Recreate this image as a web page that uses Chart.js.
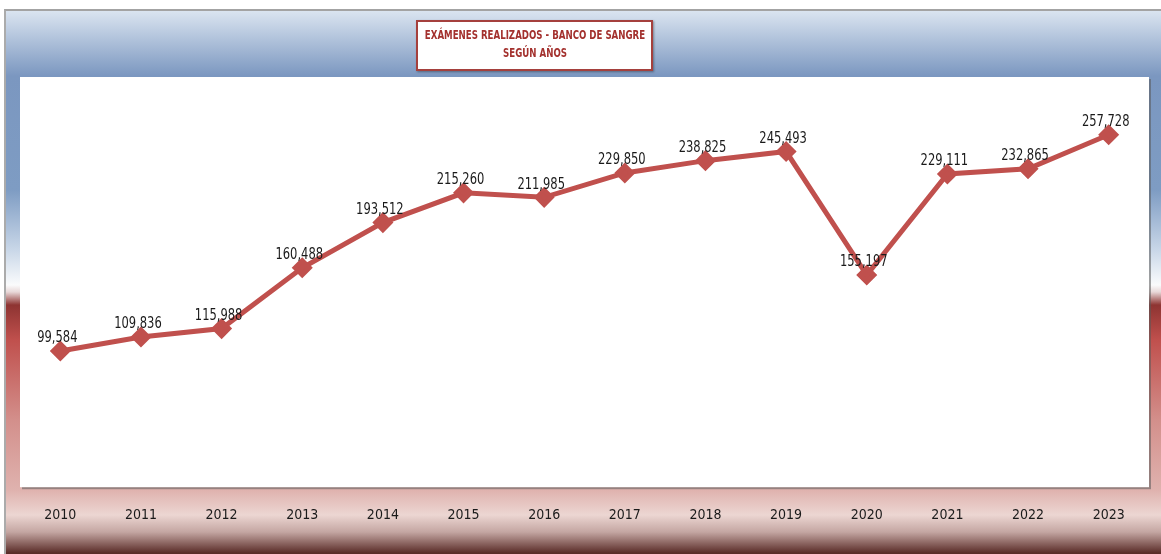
<!DOCTYPE html>
<html>
<head>
<meta charset="utf-8">
<script src="https://cdn.jsdelivr.net/npm/chart.js@4/dist/chart.umd.min.js"></script>
<style>
  body { margin: 0; background: #fff; }
  #wrap { position: relative; width: 1161px; height: 554px; overflow: hidden; }
  #frame {
    position: absolute; left: 4px; top: 9px; right: -4px; bottom: 0;
    border-top: 2px solid #a3a3a3; border-left: 2px solid #ababab;
    background: linear-gradient(to bottom,
      #dae4f0 0px, #7b97c0 65px, #7e9cc3 179px, #c9d7e8 239px, #fafbfc 274px,
      #e8d8d8 281px, #8e3432 294px, #c0504d 329px, #d38f8b 409px, #dfb2ae 479px,
      #ecd6d2 504px, #c4a6a2 521px, #5a2c28 542px);
  }
  #chart { position: absolute; left: 0; top: 0; }
  #title {
    position: absolute; left: 416px; top: 20px; width: 233px; height: 43px;
    background: #fff; border: 2px solid #a5403d; box-shadow: 1px 1px 2px rgba(0,0,0,0.35);
    color: #a3302d; font: bold 12px "Liberation Sans Narrow", "DejaVu Sans Condensed", sans-serif;
    line-height: 18px; padding-top: 4px; box-sizing: content-box;
    white-space: nowrap;
  }
  #title span {
    display: block; width: 300px; margin-left: -33.5px; text-align: center;
    transform: scaleX(0.8); transform-origin: center;
  }
</style>
</head>
<body>
<div id="wrap">
  <div id="frame"></div>
  <canvas id="chart" width="1161" height="554"></canvas>
  <div id="title"><span>EXÁMENES REALIZADOS - BANCO DE SANGRE</span><span>SEGÚN AÑOS</span></div>
</div>
<script>
// years and exams per year
const years = ['2010','2011','2012','2013','2014','2015','2016','2017','2018','2019','2020','2021','2022','2023'];
const exams = [99584, 109836, 115988, 160488, 193512, 215260, 211985, 229850, 238825, 245493, 155197, 229111, 232865, 257728];

const narrow = '"Liberation Sans Narrow", "DejaVu Sans Condensed", sans-serif';

// white plot area with a little grey shadow
const plotBackground = {
  id: 'plotBackground',
  beforeDraw(chart) {
    const { ctx, chartArea: a } = chart;
    ctx.save();
    ctx.fillStyle = 'rgba(90,90,90,0.55)';
    ctx.fillRect(a.left + 2, a.top + 2, a.right - a.left, a.bottom - a.top);
    ctx.fillStyle = '#ffffff';
    ctx.fillRect(a.left, a.top, a.right - a.left, a.bottom - a.top);
    ctx.restore();
  }
};

// value labels above each point (squeezed a bit, like Calibri)
const valueLabels = {
  id: 'valueLabels',
  afterDatasetsDraw(chart) {
    const ctx = chart.ctx;
    const meta = chart.getDatasetMeta(0);
    ctx.save();
    ctx.font = '16px ' + narrow;
    ctx.fillStyle = '#1a1a1a';
    ctx.textAlign = 'center';
    ctx.textBaseline = 'middle';
    meta.data.forEach((pt, i) => {
      ctx.save();
      ctx.translate(pt.x - 3, pt.y - 13);
      ctx.scale(0.8, 1);
      ctx.fillText(exams[i].toLocaleString('en-US'), 0, 0);
      ctx.restore();
    });
    ctx.restore();
  }
};

var ctx = document.getElementById('chart').getContext('2d');
var chart = new Chart(ctx, {
  type: 'line',
  data: {
    labels: years,
    datasets: [{
      data: exams,
      borderColor: '#c0504d',
      borderWidth: 5,
      pointStyle: 'rectRot',
      pointRadius: 7,
      pointBackgroundColor: '#c0504d',
      pointBorderColor: '#c0504d',
      tension: 0
    }]
  },
  options: {
    responsive: false,
    animation: false,
    devicePixelRatio: 1,
    layout: { padding: { left: 20, top: 77, right: 8, bottom: 10 } },
    plugins: { legend: { display: false }, tooltip: { enabled: false } },
    scales: {
      x: {
        offset: true,
        grid: { display: false, drawTicks: false },
        border: { display: false },
        ticks: { color: '#1a1a1a', font: { family: narrow, size: 14 }, padding: 20 }
      },
      y: {
        display: false,
        min: 0,
        max: 300000
      }
    }
  },
  plugins: [plotBackground, valueLabels]
});
</script>
</body>
</html>
